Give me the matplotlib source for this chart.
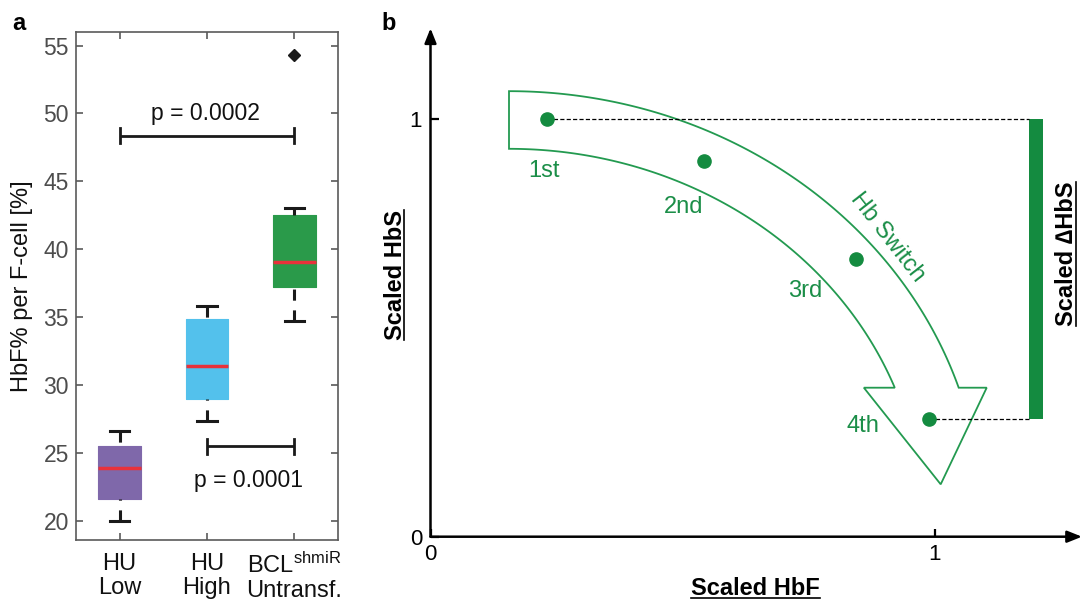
import numpy as np
import matplotlib
matplotlib.use('Agg')
import matplotlib.pyplot as plt
from matplotlib.lines import Line2D
from matplotlib.patches import Polygon

plt.rcParams['font.family'] = ['Liberation Sans', 'DejaVu Sans']
plt.rcParams['mathtext.fontset'] = 'custom'
plt.rcParams['mathtext.rm'] = 'Liberation Sans'
plt.rcParams['mathtext.it'] = 'Liberation Sans:italic'
plt.rcParams['mathtext.bf'] = 'Liberation Sans:bold'
plt.rcParams['lines.scale_dashes'] = False

# ---------------- data: panel a ----------------
groups = ['HU\nLow', 'HU\nHigh', 'BCL$^{\\mathrm{shmiR}}$\nUntransf.']
medians = [23.9, 31.4, 39.1]
q1 = [21.65, 29.0, 37.2]
q3 = [25.55, 34.85, 42.5]
whis_lo = [20.0, 27.35, 34.75]
whis_hi = [26.6, 35.8, 43.05]
outliers = [[], [], [54.3]]
box_colors = ['#7F68AA', '#53C1EC', '#2A9A4A']
p_values = ['p = 0.0002', 'p = 0.0001']
sig_pairs = [(1, 3), (2, 3)]
sig_heights = [48.35, 25.5]
y_ticks_a = [20, 25, 30, 35, 40, 45, 50, 55]

# ---------------- data: panel b ----------------
stages = ['1st', '2nd', '3rd', '4th']
scaled_hbf = [0.23, 0.542, 0.843, 0.989]
scaled_hbs = [1.0, 0.899, 0.664, 0.282]

GREEN_TXT = '#1B8E48'
GREEN_DOT = '#148B40'
GREEN_BAR = '#148B40'

W, H = 1083, 603
fig = plt.figure(figsize=(W / 100, H / 100), dpi=100)

# ================= panel a =================
axa = fig.add_axes([76 / W, (H - 540) / H, 262 / W, 508 / H])
stats = []
for m, a, b, lo, hi, f in zip(medians, q1, q3, whis_lo, whis_hi, outliers):
    stats.append(dict(med=m, q1=a, q3=b, whislo=lo, whishi=hi, fliers=np.array(f)))
bp = axa.bxp(stats, positions=[1, 2, 3], widths=0.49, capwidths=0.22,
             patch_artist=True, showfliers=True,
             boxprops=dict(linewidth=0.8),
             medianprops=dict(color='#E8313A', linewidth=2.5),
             whiskerprops=dict(color='#1a1a1a', linewidth=2.2, linestyle=(0, (8, 7))),
             capprops=dict(color='#1a1a1a', linewidth=2.2),
             flierprops=dict(marker='D', markerfacecolor='#1a1a1a',
                             markeredgecolor='#1a1a1a', markersize=6.5))
for patch, c in zip(bp['boxes'], box_colors):
    patch.set_facecolor(c)
    patch.set_edgecolor(c)
    patch.set_joinstyle('round')
for w in bp['whiskers']:
    w.set_xdata(np.asarray(w.get_xdata())[::-1])
    w.set_ydata(np.asarray(w.get_ydata())[::-1])

cap_half = 0.55
for (x1, x2), h in zip(sig_pairs, sig_heights):
    axa.plot([x1, x2], [h, h], color='#1a1a1a', lw=2.0, solid_capstyle='butt')
    axa.plot([x1, x1], [h - cap_half, h + cap_half], color='#1a1a1a', lw=2.0)
    axa.plot([x2, x2], [h - cap_half, h + cap_half], color='#1a1a1a', lw=2.0)
axa.text(1.98, 49.54, p_values[0], ha='center', va='baseline', fontsize=16.5, color='#111111')
axa.text(2.47, 22.52, p_values[1], ha='center', va='baseline', fontsize=16.5, color='#111111')

axa.set_xlim(0.5, 3.5)
axa.set_ylim(18.6, 56)
axa.set_yticks(y_ticks_a)
axa.set_xticks([1, 2, 3])
axa.set_xticklabels(groups, linespacing=1.12)
for sp in axa.spines.values():
    sp.set_color('#5a5a5a')
    sp.set_linewidth(1.2)
axa.tick_params(direction='in', length=5, width=1.2, color='#5a5a5a',
                top=True, right=True)
axa.tick_params(axis='y', labelcolor='#4d4d4d', pad=5, labelsize=16.5)
axa.tick_params(axis='x', labelcolor='#111111', pad=9, labelsize=17)
axa.set_ylabel('HbF% per F-cell [%]', fontsize=17, color='#111111')
axa.yaxis.set_label_coords(-0.164, 0.5)

fig.text(12.7 / W, 1 - 30 / H, 'a', fontsize=17, fontweight='bold', ha='left', va='baseline')
fig.text(381 / W, 1 - 30 / H, 'b', fontsize=17, fontweight='bold', ha='left', va='baseline')

# ================= panel b =================
axb = fig.add_axes([430.5 / W, (H - 536.7) / H, 651.5 / W, 508.4 / H])
axb.set_xlim(0, 1.2914)
axb.set_ylim(0, 1.2171)
for sp in axb.spines.values():
    sp.set_visible(False)
arrow_kw = dict(arrowstyle='-|>,head_length=0.55,head_width=0.22', lw=1.8, color='k',
                shrinkA=0, shrinkB=0, mutation_scale=16)
axb.annotate('', xy=(0, 1), xytext=(0, 0), xycoords='axes fraction',
             textcoords='axes fraction', arrowprops=arrow_kw, annotation_clip=False)
axb.annotate('', xy=(1, 0), xytext=(0, 0), xycoords='axes fraction',
             textcoords='axes fraction', arrowprops=arrow_kw, annotation_clip=False)
axb.set_xticks([0, 1])
axb.set_xticklabels(['0', '1'])
axb.set_yticks([0, 1])
axb.set_yticklabels(['0', '1'])
axb.tick_params(direction='in', length=6, width=1.6, labelsize=16, color='k')
axb.tick_params(axis='x', pad=5)
axb.tick_params(axis='y', pad=6)

# curved "Hb Switch" arrow (schematic geometry)
cx, cy = 0.1556, 0.0376
a_out, b_out = 0.9376, 1.029
a_in, b_in = 0.819, 0.891
y_sh = 0.3567
head_l, head_r = 0.859, 1.1025
tip = (1.0113, 0.1254)
th_o = np.arcsin((y_sh - cy) / b_out)
th_i = np.arcsin((y_sh - cy) / b_in)
t_o = np.linspace(np.pi / 2, th_o, 120)
t_i = np.linspace(th_i, np.pi / 2, 120)
outer = np.column_stack([cx + a_out * np.cos(t_o), cy + b_out * np.sin(t_o)])
inner = np.column_stack([cx + a_in * np.cos(t_i), cy + b_in * np.sin(t_i)])
pts = np.vstack([outer, [[head_r, y_sh], list(tip), [head_l, y_sh]], inner])
axb.add_patch(Polygon(pts, closed=True, fill=False, edgecolor='#239A50', lw=1.3,
                      joinstyle='miter', zorder=2))

bar_x, bar_w = 1.2005, 0.029
axb.bar(bar_x, scaled_hbs[0] - scaled_hbs[-1], bottom=scaled_hbs[-1], width=bar_w,
        color=GREEN_BAR, zorder=3)
for yv, xv in [(scaled_hbs[0], scaled_hbf[0]), (scaled_hbs[-1], scaled_hbf[-1])]:
    axb.plot([xv, bar_x - bar_w / 2], [yv, yv], color='k', lw=0.9,
             linestyle=(0, (3, 1.6)), zorder=3)
axb.plot(scaled_hbf, scaled_hbs, 'o', color=GREEN_DOT, ms=9.5, zorder=5)

label_pos = [(0.2255, 0.860), (0.5025, 0.7757), (0.7433, 0.5727), (0.857, 0.2514)]
for s, (lx, ly) in zip(stages, label_pos):
    axb.text(lx, ly, s, color=GREEN_TXT, fontsize=17, ha='center', va='baseline')
axb.text(0.905, 0.716, 'Hb Switch', rotation=-52, rotation_mode='anchor',
         ha='center', va='center', color=GREEN_TXT, fontsize=17)

t_x = fig.text(755.3 / W, 1 - 595 / H, 'Scaled HbF', fontsize=17, fontweight='bold',
               ha='center', va='baseline')
t_y = fig.text(401.5 / W, 1 - 275 / H, 'Scaled HbS', fontsize=17, fontweight='bold',
               ha='center', va='baseline', rotation=90, rotation_mode='anchor')
t_d = fig.text(1073.3 / W, 1 - 254 / H, 'Scaled \u2206HbS', fontsize=17, fontweight='bold',
               ha='center', va='baseline', rotation=90, rotation_mode='anchor')

fig.canvas.draw()
r = fig.canvas.get_renderer()
bb = t_x.get_window_extent(r)
yb = H - 595 - 2.5
fig.add_artist(Line2D([bb.x0 / W, bb.x1 / W], [yb / H, yb / H], color='k', lw=1.2,
                      transform=fig.transFigure))
for t, xbase in [(t_y, 401.5), (t_d, 1073.3)]:
    bb = t.get_window_extent(r)
    xu = xbase + 2.5
    fig.add_artist(Line2D([xu / W, xu / W], [bb.y0 / H, bb.y1 / H], color='k', lw=1.2,
                          transform=fig.transFigure))

fig.savefig('out.png', dpi=100)
